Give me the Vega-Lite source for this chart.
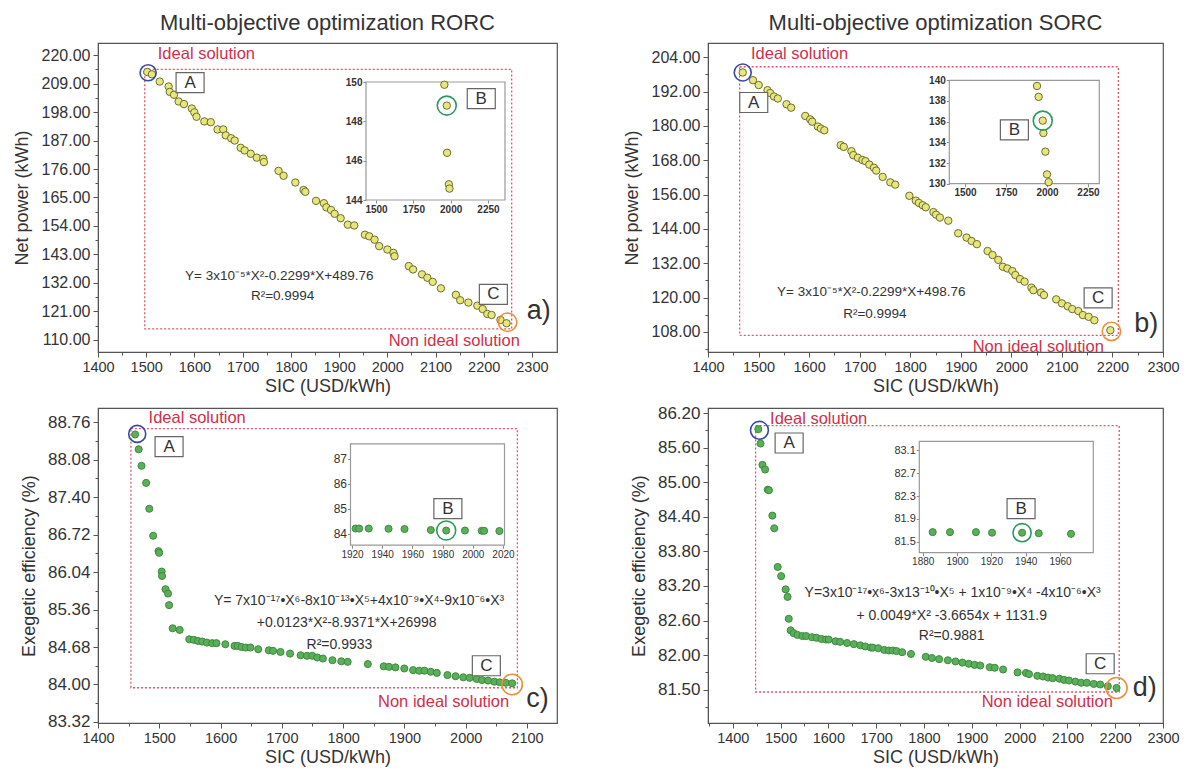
{
"$schema": "https://vega.github.io/schema/vega-lite/v6.json",
"padding": {"left": 12, "top": 11, "right": 5, "bottom": 5},
"background": "white",
"config": {
 "view": {"stroke": "#555", "strokeWidth": 1.2},
 "font": "Liberation Sans",
 "axis": {"labelFont": "Liberation Sans", "titleFont": "Liberation Sans", "labelColor": "#333", "titleColor": "#333", "domainColor": "#555", "tickColor": "#555", "grid": false, "labelFlush": false, "labelOverlap": false, "titleFontWeight": "normal", "tickSize": 5, "labelPadding": 3},
 "title": {"font": "Liberation Sans", "fontWeight": "normal", "fontSize": 22, "color": "#333", "offset": 8},
 "text": {"font": "Liberation Sans"}
},
"columns": 2,
"bounds": "flush",
"spacing": {"row": 56, "column": 151},
"concat": [
{
 "width": 459, "height": 309,
 "title": "Multi-objective optimization RORC",
 "resolve": {"scale": {"x": "independent", "y": "independent"}, "axis": {"x": "independent", "y": "independent"}},
 "layer": [
  {
   "resolve": {"axis": {"x": "independent", "y": "independent"}},
   "layer": [
    {
     "encoding": {
      "x": {"field": "x", "type": "quantitative", "scale": {"domain": [1400, 2352], "nice": false, "zero": false}, "axis": {"orient": "bottom", "values": [1400,1500,1600,1700,1800,1900,2000,2100,2200,2300], "format": "d", "title": "SIC (USD/kWh)", "labelFontSize": 14.5, "titleFontSize": 18, "titlePadding": 4}},
      "y": {"field": "y", "type": "quantitative", "scale": {"domain": [105.3, 224.7], "nice": false, "zero": false}, "axis": {"orient": "left", "values": [110,121,132,143,154,165,176,187,198,209,220], "format": ".2f", "title": "Net power (kWh)", "labelFontSize": 16, "titleFontSize": 18, "titlePadding": 10}}
     },
     "layer": [
      {"data": {"values": [{"x": 1497, "x2": 2258, "y": 114.2, "y2": 214.5}]}, "mark": {"type": "rect", "fill": "transparent", "stroke": "#e0566a", "strokeWidth": 1.3, "strokeDash": [2, 2]}, "encoding": {"x2": {"field": "x2"}, "y2": {"field": "y2"}}},
      {"data": {"values": [{"x":1502.1,"y":213.5},{"x":1511.8,"y":212.6},{"x":1528.0,"y":209.8},{"x":1546.5,"y":207.9},{"x":1548.8,"y":205.8},{"x":1557.6,"y":204.7},{"x":1567.3,"y":202.1},{"x":1578.4,"y":201.1},{"x":1594.6,"y":199.4},{"x":1599.8,"y":197.9},{"x":1604.3,"y":196.2},{"x":1620.5,"y":194.4},{"x":1633.9,"y":194.1},{"x":1647.9,"y":191.3},{"x":1659.8,"y":191.3},{"x":1665.0,"y":189.0},{"x":1676.1,"y":187.9},{"x":1683.5,"y":187.0},{"x":1696.0,"y":184.2},{"x":1704.2,"y":183.2},{"x":1716.8,"y":181.9},{"x":1729.3,"y":180.4},{"x":1742.7,"y":180.0},{"x":1744.1,"y":178.7},{"x":1774.5,"y":175.3},{"x":1784.9,"y":173.4},{"x":1809.3,"y":170.8},{"x":1826.3,"y":167.9},{"x":1830.0,"y":167.2},{"x":1852.2,"y":163.7},{"x":1868.5,"y":162.8},{"x":1873.7,"y":161.2},{"x":1883.3,"y":160.2},{"x":1890.7,"y":158.7},{"x":1903.3,"y":157.0},{"x":1918.1,"y":154.5},{"x":1931.4,"y":154.2},{"x":1953.6,"y":150.6},{"x":1962.5,"y":150.0},{"x":1973.6,"y":148.7},{"x":1983.2,"y":146.2},{"x":2000.2,"y":144.9},{"x":2012.8,"y":143.6},{"x":2015.0,"y":142.3},{"x":2044.6,"y":138.5},{"x":2053.5,"y":137.2},{"x":2072.0,"y":135.3},{"x":2083.1,"y":134.0},{"x":2094.2,"y":132.4},{"x":2111.2,"y":129.9},{"x":2142.3,"y":127.4},{"x":2151.2,"y":125.3},{"x":2168.2,"y":124.4},{"x":2186.7,"y":123.2},{"x":2197.8,"y":121.9},{"x":2207.5,"y":120.0},{"x":2216.3,"y":119.6},{"x":2234.8,"y":117.7},{"x":2247.4,"y":116.4}]}, "mark": {"type": "point", "filled": true, "fill": "#e6e67c", "stroke": "#6e6e2e", "strokeWidth": 1, "opacity": 1, "size": 55}},
      {"data": {"values": [{"x": 1504, "y": 213.2}]}, "mark": {"type": "point", "filled": false, "stroke": "#3a4aa0", "strokeWidth": 1.6, "size": 260, "opacity": 1}},
      {"data": {"values": [{"x": 2249.6, "y": 116.8}]}, "mark": {"type": "point", "filled": false, "stroke": "#e8903a", "strokeWidth": 1.6, "size": 340, "opacity": 1}},
      {"data": {"values": [{"x": 1591, "y": 209.4, "label": "A"}, {"x": 2220, "y": 127.6, "label": "C"}]}, "mark": {"type": "point", "shape": "M-1.4,-1H1.4V1H-1.4Z", "filled": true, "fill": "white", "stroke": "#666", "strokeWidth": 1.2, "size": 400, "opacity": 1}},
      {"data": {"values": [{"x": 1591, "y": 209.4, "label": "A"}, {"x": 2220, "y": 127.6, "label": "C"}]}, "mark": {"type": "text", "fontSize": 17, "color": "#333", "baseline": "middle", "align": "center"}, "encoding": {"text": {"field": "label"}}},
      {"data": {"values": [{"x": 1524, "y": 220.3, "label": "Ideal solution"}]}, "mark": {"type": "text", "fontSize": 16.5, "color": "#d0304a", "align": "left", "baseline": "middle"}, "encoding": {"text": {"field": "label"}}},
      {"data": {"values": [{"x": 2275, "y": 109.7, "label": "Non ideal solution"}]}, "mark": {"type": "text", "fontSize": 16.5, "color": "#d0304a", "align": "right", "baseline": "middle"}, "encoding": {"text": {"field": "label"}}},
      {"data": {"values": [{"x": 1776, "y": 134.7, "label": "Y= 3x10⁻⁵*X²-0.2299*X+489.76"}, {"x": 1783, "y": 127.0, "label": "R²=0.9994"}]}, "mark": {"type": "text", "fontSize": 13.5, "color": "#333", "align": "center", "baseline": "middle"}, "encoding": {"text": {"field": "label"}}},
      {"data": {"values": [{"x": 2314, "y": 121.2, "label": "a)"}]}, "mark": {"type": "text", "fontSize": 27, "color": "#333", "align": "center", "baseline": "middle"}, "encoding": {"text": {"field": "label"}}}
     ]
    },
    {"data": {"values": [{"x": 1400, "y": 110}]}, "mark": {"type": "point", "opacity": 0},
     "encoding": {
      "x": {"field": "x", "type": "quantitative", "axis": {"orient": "bottom", "values": [1450,1550,1650,1750,1850,1950,2050,2150,2250], "labels": false, "domain": false, "tickSize": 3, "title": null}},
      "y": {"field": "y", "type": "quantitative", "axis": {"orient": "left", "values": [115.5,126.5,137.5,148.5,159.5,170.5,181.5,192.5,203.5,214.5], "labels": false, "domain": false, "tickSize": 3, "title": null}}
     }}
   ]
  },
  {
   "encoding": {
    "x": {"field": "x", "type": "quantitative", "scale": {"domain": [1433, 2364], "range": [268, 407], "nice": false, "zero": false}, "axis": {"orient": "bottom", "offset": -152, "values": [1500, 1750, 2000, 2250], "format": "d", "title": null, "domain": false, "tickSize": 3, "labelFontSize": 10, "labelFontWeight": "bold", "labelPadding": 1, "tickColor": "#888"}},
    "y": {"field": "y", "type": "quantitative", "scale": {"domain": [144, 150], "range": [157, 39], "nice": false, "zero": false}, "axis": {"orient": "left", "offset": -268, "values": [144, 146, 148, 150], "format": "d", "title": null, "domain": false, "tickSize": 3, "labelFontSize": 10, "labelFontWeight": "bold", "labelPadding": 1, "tickColor": "#888"}}
   },
   "layer": [
    {"data": {"values": [{"x": 1433, "x2": 2364, "y": 144, "y2": 150}]}, "mark": {"type": "rect", "fill": "white", "stroke": "#999", "strokeWidth": 1.2}, "encoding": {"x2": {"field": "x2"}, "y2": {"field": "y2"}}},
    {"data": {"values": [{"x": 1958, "y": 149.86}, {"x": 1974, "y": 148.8}, {"x": 1976, "y": 146.4}, {"x": 1988, "y": 144.8}, {"x": 1992, "y": 144.58}]}, "mark": {"type": "point", "filled": true, "fill": "#e6e67c", "stroke": "#6e6e2e", "strokeWidth": 1, "opacity": 1, "size": 55}},
    {"data": {"values": [{"x": 1974, "y": 148.8}]}, "mark": {"type": "point", "filled": false, "stroke": "#2a9a60", "strokeWidth": 1.6, "size": 360, "opacity": 1}},
    {"data": {"values": [{"x": 2205, "y": 149.15, "label": "B"}]}, "mark": {"type": "point", "shape": "M-1.4,-1H1.4V1H-1.4Z", "filled": true, "fill": "white", "stroke": "#666", "strokeWidth": 1.2, "size": 400, "opacity": 1}},
    {"data": {"values": [{"x": 2205, "y": 149.15, "label": "B"}]}, "mark": {"type": "text", "fontSize": 17, "color": "#333", "baseline": "middle", "align": "center"}, "encoding": {"text": {"field": "label"}}}
   ]
  }
 ]
},
{
 "width": 455, "height": 309,
 "title": "Multi-objective optimization SORC",
 "resolve": {"scale": {"x": "independent", "y": "independent"}, "axis": {"x": "independent", "y": "independent"}},
 "layer": [
  {
   "resolve": {"axis": {"x": "independent", "y": "independent"}},
   "layer": [
    {
     "encoding": {
      "x": {"field": "x", "type": "quantitative", "scale": {"domain": [1400, 2300], "nice": false, "zero": false}, "axis": {"orient": "bottom", "values": [1400,1500,1600,1700,1800,1900,2000,2100,2200,2300], "format": "d", "title": "SIC (USD/kWh)", "labelFontSize": 14.5, "titleFontSize": 18, "titlePadding": 4}},
      "y": {"field": "y", "type": "quantitative", "scale": {"domain": [101, 209], "nice": false, "zero": false}, "axis": {"orient": "left", "values": [108,120,132,144,156,168,180,192,204], "format": ".2f", "title": "Net power (kWh)", "labelFontSize": 16, "titleFontSize": 18, "titlePadding": 10}}
     },
     "layer": [
      {"data": {"values": [{"x": 1462.6, "x2": 2211.7, "y": 106.8, "y2": 200.7}]}, "mark": {"type": "rect", "fill": "transparent", "stroke": "#e0566a", "strokeWidth": 1.3, "strokeDash": [2, 2]}, "encoding": {"x2": {"field": "x2"}, "y2": {"field": "y2"}}},
      {"data": {"values": [{"x":1468.7,"y":198.7},{"x":1489.0,"y":196.0},{"x":1500.3,"y":194.3},{"x":1517.7,"y":192.5},{"x":1523.0,"y":191.5},{"x":1530.5,"y":190.3},{"x":1538.1,"y":189.6},{"x":1555.4,"y":187.6},{"x":1564.5,"y":186.4},{"x":1592.4,"y":183.5},{"x":1602.2,"y":182.3},{"x":1606.0,"y":181.5},{"x":1617.3,"y":179.8},{"x":1623.3,"y":179.1},{"x":1630.1,"y":178.5},{"x":1662.5,"y":173.3},{"x":1668.6,"y":172.7},{"x":1683.7,"y":171.2},{"x":1687.4,"y":169.8},{"x":1696.5,"y":168.9},{"x":1705.5,"y":168.1},{"x":1711.6,"y":167.7},{"x":1719.1,"y":166.5},{"x":1728.2,"y":165.4},{"x":1732.7,"y":164.4},{"x":1745.5,"y":162.2},{"x":1760.6,"y":160.3},{"x":1770.4,"y":159.5},{"x":1798.3,"y":155.6},{"x":1811.1,"y":153.9},{"x":1817.2,"y":153.1},{"x":1824.7,"y":152.3},{"x":1830.8,"y":151.6},{"x":1845.9,"y":149.9},{"x":1851.1,"y":149.0},{"x":1858.7,"y":148.0},{"x":1875.3,"y":146.9},{"x":1894.9,"y":142.5},{"x":1911.5,"y":141.0},{"x":1921.3,"y":139.8},{"x":1931.9,"y":138.7},{"x":1953.0,"y":136.3},{"x":1962.8,"y":134.9},{"x":1974.1,"y":133.2},{"x":1983.2,"y":130.8},{"x":1992.2,"y":130.2},{"x":2002.0,"y":129.3},{"x":2008.0,"y":127.9},{"x":2017.1,"y":126.5},{"x":2026.2,"y":125.6},{"x":2039.7,"y":123.5},{"x":2043.5,"y":122.6},{"x":2058.6,"y":121.8},{"x":2064.6,"y":120.9},{"x":2088.8,"y":119.4},{"x":2100.1,"y":118.0},{"x":2111.4,"y":117.0},{"x":2120.5,"y":116.0},{"x":2132.5,"y":115.3},{"x":2141.6,"y":113.9},{"x":2152.9,"y":113.3},{"x":2164.2,"y":112.1},{"x":2195.9,"y":108.6}]}, "mark": {"type": "point", "filled": true, "fill": "#e6e67c", "stroke": "#6e6e2e", "strokeWidth": 1, "opacity": 1, "size": 55}},
      {"data": {"values": [{"x": 1468.7, "y": 198.7}]}, "mark": {"type": "point", "filled": false, "stroke": "#3a4aa0", "strokeWidth": 1.6, "size": 290, "opacity": 1}},
      {"data": {"values": [{"x": 2198, "y": 108.2}]}, "mark": {"type": "point", "filled": false, "stroke": "#e8903a", "strokeWidth": 1.6, "size": 340, "opacity": 1}},
      {"data": {"values": [{"x": 1490.5, "y": 188.2, "label": "A"}, {"x": 2171.7, "y": 119.9, "label": "C"}]}, "mark": {"type": "point", "shape": "M-1.4,-1H1.4V1H-1.4Z", "filled": true, "fill": "white", "stroke": "#666", "strokeWidth": 1.2, "size": 400, "opacity": 1}},
      {"data": {"values": [{"x": 1490.5, "y": 188.2, "label": "A"}, {"x": 2171.7, "y": 119.9, "label": "C"}]}, "mark": {"type": "text", "fontSize": 17, "color": "#333", "baseline": "middle", "align": "center"}, "encoding": {"text": {"field": "label"}}},
      {"data": {"values": [{"x": 1485, "y": 205.2, "label": "Ideal solution"}]}, "mark": {"type": "text", "fontSize": 16.5, "color": "#d0304a", "align": "left", "baseline": "middle"}, "encoding": {"text": {"field": "label"}}},
      {"data": {"values": [{"x": 2183, "y": 102.7, "label": "Non ideal solution"}]}, "mark": {"type": "text", "fontSize": 16.5, "color": "#d0304a", "align": "right", "baseline": "middle"}, "encoding": {"text": {"field": "label"}}},
      {"data": {"values": [{"x": 1722.9, "y": 121.8, "label": "Y= 3x10⁻⁵*X²-0.2299*X+498.76"}, {"x": 1730, "y": 114.4, "label": "R²=0.9994"}]}, "mark": {"type": "text", "fontSize": 13.5, "color": "#333", "align": "center", "baseline": "middle"}, "encoding": {"text": {"field": "label"}}},
      {"data": {"values": [{"x": 2267, "y": 110.9, "label": "b)"}]}, "mark": {"type": "text", "fontSize": 27, "color": "#333", "align": "center", "baseline": "middle"}, "encoding": {"text": {"field": "label"}}}
     ]
    },
    {"data": {"values": [{"x": 1400, "y": 108}]}, "mark": {"type": "point", "opacity": 0},
     "encoding": {
      "x": {"field": "x", "type": "quantitative", "axis": {"orient": "bottom", "values": [1450,1550,1650,1750,1850,1950,2050,2150,2250], "labels": false, "domain": false, "tickSize": 3, "title": null}},
      "y": {"field": "y", "type": "quantitative", "axis": {"orient": "left", "values": [102,114,126,138,150,162,174,186,198], "labels": false, "domain": false, "tickSize": 3, "title": null}}
     }}
   ]
  },
  {
   "encoding": {
    "x": {"field": "x", "type": "quantitative", "scale": {"domain": [1404, 2319], "range": [241.3, 391.3], "nice": false, "zero": false}, "axis": {"orient": "bottom", "offset": -168.3, "values": [1500, 1750, 2000, 2250], "format": "d", "title": null, "domain": false, "tickSize": 3, "labelFontSize": 10, "labelFontWeight": "bold", "labelPadding": 1, "tickColor": "#888"}},
    "y": {"field": "y", "type": "quantitative", "scale": {"domain": [130, 140], "range": [140.7, 37.3], "nice": false, "zero": false}, "axis": {"orient": "left", "offset": -241.3, "values": [130, 132, 134, 136, 138, 140], "format": "d", "title": null, "domain": false, "tickSize": 3, "labelFontSize": 10, "labelFontWeight": "bold", "labelPadding": 1, "tickColor": "#888"}}
   },
   "layer": [
    {"data": {"values": [{"x": 1404, "x2": 2319, "y": 130, "y2": 140}]}, "mark": {"type": "rect", "fill": "white", "stroke": "#999", "strokeWidth": 1.2}, "encoding": {"x2": {"field": "x2"}, "y2": {"field": "y2"}}},
    {"data": {"values": [{"x": 1939, "y": 139.45}, {"x": 1949, "y": 138.4}, {"x": 1974, "y": 136.1}, {"x": 1978, "y": 134.9}, {"x": 1990, "y": 133.1}, {"x": 2000, "y": 130.9}, {"x": 2010, "y": 130.15}]}, "mark": {"type": "point", "filled": true, "fill": "#e6e67c", "stroke": "#6e6e2e", "strokeWidth": 1, "opacity": 1, "size": 55}},
    {"data": {"values": [{"x": 1974, "y": 136.1}]}, "mark": {"type": "point", "filled": false, "stroke": "#2a9a60", "strokeWidth": 1.6, "size": 360, "opacity": 1}},
    {"data": {"values": [{"x": 1801, "y": 135.2, "label": "B"}]}, "mark": {"type": "point", "shape": "M-1.4,-1H1.4V1H-1.4Z", "filled": true, "fill": "white", "stroke": "#666", "strokeWidth": 1.2, "size": 400, "opacity": 1}},
    {"data": {"values": [{"x": 1801, "y": 135.2, "label": "B"}]}, "mark": {"type": "text", "fontSize": 17, "color": "#333", "baseline": "middle", "align": "center"}, "encoding": {"text": {"field": "label"}}}
   ]
  }
 ]
},
{
 "width": 459, "height": 315,
 "resolve": {"scale": {"x": "independent", "y": "independent"}, "axis": {"x": "independent", "y": "independent"}},
 "layer": [
  {
   "resolve": {"axis": {"x": "independent", "y": "independent"}},
   "layer": [
    {
     "encoding": {
      "x": {"field": "x", "type": "quantitative", "scale": {"domain": [1400, 2149], "nice": false, "zero": false}, "axis": {"orient": "bottom", "values": [1400,1500,1600,1700,1800,1900,2000,2100], "format": "d", "title": "SIC (USD/kWh)", "labelFontSize": 14.5, "titleFontSize": 18, "titlePadding": 4}},
      "y": {"field": "y", "type": "quantitative", "scale": {"domain": [83.30, 89.02], "nice": false, "zero": false}, "axis": {"orient": "left", "values": [83.32,84.0,84.68,85.36,86.04,86.72,87.4,88.08,88.76], "format": ".2f", "title": "Exegetic efficiency (%)", "labelFontSize": 17, "titleFontSize": 18, "titlePadding": 9}}
     },
     "layer": [
      {"data": {"values": [{"x": 1453.7, "x2": 2084.4, "y": 83.94, "y2": 88.645}]}, "mark": {"type": "rect", "fill": "transparent", "stroke": "#e0566a", "strokeWidth": 1.3, "strokeDash": [2, 2]}, "encoding": {"x2": {"field": "x2"}, "y2": {"field": "y2"}}},
      {"data": {"values": [{"x":1460.6,"y":88.54},{"x":1466.4,"y":88.27},{"x":1471.0,"y":87.97},{"x":1478.5,"y":87.66},{"x":1483.7,"y":87.19},{"x":1490.0,"y":86.70},{"x":1498.7,"y":86.42},{"x":1499.8,"y":86.39},{"x":1503.9,"y":86.05},{"x":1504.5,"y":85.97},{"x":1510.2,"y":85.73},{"x":1514.3,"y":85.65},{"x":1516.0,"y":85.44},{"x":1521.8,"y":85.02},{"x":1533.3,"y":84.99},{"x":1548.9,"y":84.82},{"x":1556.4,"y":84.81},{"x":1563.3,"y":84.79},{"x":1570.2,"y":84.78},{"x":1577.7,"y":84.76},{"x":1586.4,"y":84.75},{"x":1593.3,"y":84.75},{"x":1607.8,"y":84.73},{"x":1622.8,"y":84.70},{"x":1628.0,"y":84.70},{"x":1634.3,"y":84.68},{"x":1641.2,"y":84.67},{"x":1648.7,"y":84.67},{"x":1661.4,"y":84.64},{"x":1678.7,"y":84.62},{"x":1685.7,"y":84.61},{"x":1697.8,"y":84.59},{"x":1713.4,"y":84.56},{"x":1730.7,"y":84.53},{"x":1741.1,"y":84.52},{"x":1749.7,"y":84.52},{"x":1757.8,"y":84.49},{"x":1767.0,"y":84.47},{"x":1782.6,"y":84.44},{"x":1797.0,"y":84.42},{"x":1807.4,"y":84.41},{"x":1840.3,"y":84.37},{"x":1866.3,"y":84.33},{"x":1874.9,"y":84.32},{"x":1885.3,"y":84.31},{"x":1899.8,"y":84.29},{"x":1914.2,"y":84.26},{"x":1924.0,"y":84.25},{"x":1932.7,"y":84.25},{"x":1943.1,"y":84.23},{"x":1952.9,"y":84.21},{"x":1970.2,"y":84.17},{"x":1983.5,"y":84.15},{"x":1996.1,"y":84.13},{"x":2006.5,"y":84.12},{"x":2018.1,"y":84.10},{"x":2026.7,"y":84.08},{"x":2036.5,"y":84.07},{"x":2046.9,"y":84.05},{"x":2055.6,"y":84.04},{"x":2065.4,"y":84.03},{"x":2075.8,"y":84.02}]}, "mark": {"type": "point", "filled": true, "fill": "#5aaf5a", "stroke": "#3d8b3d", "strokeWidth": 1, "opacity": 1, "size": 50}},
      {"data": {"values": [{"x": 1464, "y": 88.55}]}, "mark": {"type": "point", "filled": false, "stroke": "#3a4aa0", "strokeWidth": 1.6, "size": 290, "opacity": 1}},
      {"data": {"values": [{"x": 2075.8, "y": 84.0}]}, "mark": {"type": "point", "filled": false, "stroke": "#e8903a", "strokeWidth": 1.6, "size": 420, "opacity": 1}},
      {"data": {"values": [{"x": 1516, "y": 88.32, "label": "A"}, {"x": 2033.7, "y": 84.34, "label": "C"}]}, "mark": {"type": "point", "shape": "M-1.4,-1H1.4V1H-1.4Z", "filled": true, "fill": "white", "stroke": "#666", "strokeWidth": 1.2, "size": 400, "opacity": 1}},
      {"data": {"values": [{"x": 1516, "y": 88.32, "label": "A"}, {"x": 2033.7, "y": 84.34, "label": "C"}]}, "mark": {"type": "text", "fontSize": 17, "color": "#333", "baseline": "middle", "align": "center"}, "encoding": {"text": {"field": "label"}}},
      {"data": {"values": [{"x": 1482.5, "y": 88.84, "label": "Ideal solution"}]}, "mark": {"type": "text", "fontSize": 16.5, "color": "#d0304a", "align": "left", "baseline": "middle"}, "encoding": {"text": {"field": "label"}}},
      {"data": {"values": [{"x": 2071, "y": 83.68, "label": "Non ideal solution"}]}, "mark": {"type": "text", "fontSize": 16.5, "color": "#d0304a", "align": "right", "baseline": "middle"}, "encoding": {"text": {"field": "label"}}},
      {"data": {"values": [{"x": 1826, "y": 85.52, "label": "Y= 7x10⁻¹⁷•X⁶-8x10⁻¹³•X⁵+4x10⁻⁹•X⁴-9x10⁻⁶•X³"}, {"x": 1805.7, "y": 85.11, "label": "+0.0123*X²-8.9371*X+26998"}, {"x": 1794, "y": 84.71, "label": "R²=0.9933"}]}, "mark": {"type": "text", "fontSize": 14, "color": "#333", "align": "center", "baseline": "middle"}, "encoding": {"text": {"field": "label"}}},
      {"data": {"values": [{"x": 2117, "y": 83.74, "label": "c)"}]}, "mark": {"type": "text", "fontSize": 27, "color": "#333", "align": "center", "baseline": "middle"}, "encoding": {"text": {"field": "label"}}}
     ]
    },
    {"data": {"values": [{"x": 1400, "y": 84}]}, "mark": {"type": "point", "opacity": 0},
     "encoding": {
      "x": {"field": "x", "type": "quantitative", "axis": {"orient": "bottom", "values": [1450,1550,1650,1750,1850,1950,2050], "labels": false, "domain": false, "tickSize": 3, "title": null}},
      "y": {"field": "y", "type": "quantitative", "axis": {"orient": "left", "values": [83.66,84.34,85.02,85.7,86.38,87.06,87.74,88.42], "labels": false, "domain": false, "tickSize": 3, "title": null}}
     }}
   ]
  },
  {
   "encoding": {
    "x": {"field": "x", "type": "quantitative", "scale": {"domain": [1919, 2021], "range": [252.5, 406.5], "nice": false, "zero": false}, "axis": {"orient": "bottom", "offset": -177.8, "values": [1920, 1940, 1960, 1980, 2000, 2020], "format": "d", "title": null, "domain": false, "tickSize": 3, "labelFontSize": 10, "labelPadding": 1, "tickColor": "#888"}},
    "y": {"field": "y", "type": "quantitative", "scale": {"domain": [83.53, 87.6], "range": [137.2, 35.9], "nice": false, "zero": false}, "axis": {"orient": "left", "offset": -252.5, "values": [84, 85, 86, 87], "format": "d", "title": null, "domain": false, "tickSize": 3, "labelFontSize": 12, "labelPadding": 1, "tickColor": "#888"}}
   },
   "layer": [
    {"data": {"values": [{"x": 1919, "x2": 2021, "y": 83.53, "y2": 87.6}]}, "mark": {"type": "rect", "fill": "white", "stroke": "#999", "strokeWidth": 1.2}, "encoding": {"x2": {"field": "x2"}, "y2": {"field": "y2"}}},
    {"data": {"values": [{"x": 1922.4, "y": 84.2}, {"x": 1924.7, "y": 84.2}, {"x": 1931.1, "y": 84.2}, {"x": 1944.2, "y": 84.19}, {"x": 1954.8, "y": 84.18}, {"x": 1972.2, "y": 84.14}, {"x": 1982.4, "y": 84.12}, {"x": 1994.8, "y": 84.12}, {"x": 2005.9, "y": 84.11}, {"x": 2007.5, "y": 84.11}, {"x": 2017.6, "y": 84.1}]}, "mark": {"type": "point", "filled": true, "fill": "#5aaf5a", "stroke": "#3d8b3d", "strokeWidth": 1, "opacity": 1, "size": 50}},
    {"data": {"values": [{"x": 1982.4, "y": 84.12}]}, "mark": {"type": "point", "filled": false, "stroke": "#2a9a60", "strokeWidth": 1.6, "size": 360, "opacity": 1}},
    {"data": {"values": [{"x": 1983.5, "y": 85.0, "label": "B"}]}, "mark": {"type": "point", "shape": "M-1.4,-1H1.4V1H-1.4Z", "filled": true, "fill": "white", "stroke": "#666", "strokeWidth": 1.2, "size": 400, "opacity": 1}},
    {"data": {"values": [{"x": 1983.5, "y": 85.0, "label": "B"}]}, "mark": {"type": "text", "fontSize": 17, "color": "#333", "baseline": "middle", "align": "center"}, "encoding": {"text": {"field": "label"}}}
   ]
  }
 ]
},
{
 "width": 455, "height": 315,
 "resolve": {"scale": {"x": "independent", "y": "independent"}, "axis": {"x": "independent", "y": "independent"}},
 "layer": [
  {
   "resolve": {"axis": {"x": "independent", "y": "independent"}},
   "layer": [
    {
     "encoding": {
      "x": {"field": "x", "type": "quantitative", "scale": {"domain": [1348.2, 2300], "nice": false, "zero": false}, "axis": {"orient": "bottom", "values": [1400,1500,1600,1700,1800,1900,2000,2100,2200,2300], "format": "d", "title": "SIC (USD/kWh)", "labelFontSize": 14.5, "titleFontSize": 18, "titlePadding": 4}},
      "y": {"field": "y", "type": "quantitative", "scale": {"domain": [80.822, 86.287], "nice": false, "zero": false}, "axis": {"orient": "left", "values": [81.4,82.0,82.6,83.2,83.8,84.4,85.0,85.6,86.2], "labelExpr": "datum.value < 81.45 ? '81.50' : format(datum.value, '.2f')", "title": "Exegetic efficiency (%)", "labelFontSize": 17, "titleFontSize": 18, "titlePadding": 9}}
     },
     "layer": [
      {"data": {"values": [{"x": 1447.8, "x2": 2208.4, "y": 81.36, "y2": 85.98}]}, "mark": {"type": "rect", "fill": "transparent", "stroke": "#e0566a", "strokeWidth": 1.3, "strokeDash": [2, 2]}, "encoding": {"x2": {"field": "x2"}, "y2": {"field": "y2"}}},
      {"data": {"values": [{"x":1453.4,"y":85.92},{"x":1458.1,"y":85.67},{"x":1462.1,"y":85.30},{"x":1467.7,"y":85.22},{"x":1473.3,"y":84.87},{"x":1475.7,"y":84.86},{"x":1482.8,"y":84.42},{"x":1486.8,"y":84.20},{"x":1494.0,"y":83.53},{"x":1501.2,"y":83.37},{"x":1510.7,"y":83.14},{"x":1514.7,"y":83.01},{"x":1517.1,"y":82.63},{"x":1521.1,"y":82.43},{"x":1527.4,"y":82.38},{"x":1535.4,"y":82.35},{"x":1545.8,"y":82.33},{"x":1553.7,"y":82.33},{"x":1565.7,"y":82.31},{"x":1575.2,"y":82.30},{"x":1585.6,"y":82.28},{"x":1595.1,"y":82.27},{"x":1600.7,"y":82.27},{"x":1615.1,"y":82.24},{"x":1624.6,"y":82.23},{"x":1639.0,"y":82.21},{"x":1653.3,"y":82.19},{"x":1666.8,"y":82.17},{"x":1677.2,"y":82.15},{"x":1689.1,"y":82.13},{"x":1693.1,"y":82.13},{"x":1704.3,"y":82.12},{"x":1717.0,"y":82.09},{"x":1726.6,"y":82.08},{"x":1734.5,"y":82.08},{"x":1742.5,"y":82.07},{"x":1754.4,"y":82.05},{"x":1772.8,"y":82.02},{"x":1803.8,"y":81.97},{"x":1816.6,"y":81.95},{"x":1831.7,"y":81.93},{"x":1850.0,"y":81.91},{"x":1866.0,"y":81.89},{"x":1880.3,"y":81.87},{"x":1893.8,"y":81.85},{"x":1905.8,"y":81.83},{"x":1917.7,"y":81.82},{"x":1937.6,"y":81.79},{"x":1948.0,"y":81.78},{"x":1965.5,"y":81.75},{"x":1995.8,"y":81.70},{"x":2013.3,"y":81.69},{"x":2019.7,"y":81.67},{"x":2037.2,"y":81.64},{"x":2049.1,"y":81.63},{"x":2059.5,"y":81.61},{"x":2069.1,"y":81.60},{"x":2083.4,"y":81.59},{"x":2093.0,"y":81.57},{"x":2103.3,"y":81.56},{"x":2116.9,"y":81.54},{"x":2128.8,"y":81.52},{"x":2140.7,"y":81.52},{"x":2155.1,"y":81.50},{"x":2168.6,"y":81.49},{"x":2184.6,"y":81.46},{"x":2202.9,"y":81.43}]}, "mark": {"type": "point", "filled": true, "fill": "#5aaf5a", "stroke": "#3d8b3d", "strokeWidth": 1, "opacity": 1, "size": 50}},
      {"data": {"values": [{"x": 1455.8, "y": 85.9}]}, "mark": {"type": "point", "filled": false, "stroke": "#3a4aa0", "strokeWidth": 1.6, "size": 320, "opacity": 1}},
      {"data": {"values": [{"x": 2203, "y": 81.43}]}, "mark": {"type": "point", "filled": false, "stroke": "#e8903a", "strokeWidth": 1.6, "size": 440, "opacity": 1}},
      {"data": {"values": [{"x": 1517.9, "y": 85.68, "label": "A"}, {"x": 2168.6, "y": 81.85, "label": "C"}]}, "mark": {"type": "point", "shape": "M-1.4,-1H1.4V1H-1.4Z", "filled": true, "fill": "white", "stroke": "#666", "strokeWidth": 1.2, "size": 400, "opacity": 1}},
      {"data": {"values": [{"x": 1517.9, "y": 85.68, "label": "A"}, {"x": 2168.6, "y": 81.85, "label": "C"}]}, "mark": {"type": "text", "fontSize": 17, "color": "#333", "baseline": "middle", "align": "center"}, "encoding": {"text": {"field": "label"}}},
      {"data": {"values": [{"x": 1478, "y": 86.1, "label": "Ideal solution"}]}, "mark": {"type": "text", "fontSize": 16.5, "color": "#d0304a", "align": "left", "baseline": "middle"}, "encoding": {"text": {"field": "label"}}},
      {"data": {"values": [{"x": 2195, "y": 81.18, "label": "Non ideal solution"}]}, "mark": {"type": "text", "fontSize": 16.5, "color": "#d0304a", "align": "right", "baseline": "middle"}, "encoding": {"text": {"field": "label"}}},
      {"data": {"values": [{"x": 1860, "y": 83.08, "label": "Y=3x10⁻¹⁷•x⁶-3x13⁻¹⁰•X⁵ + 1x10⁻⁹•X⁴ -4x10⁻⁶•X³"}, {"x": 1858, "y": 82.68, "label": "+ 0.0049*X² -3.6654x + 1131.9"}, {"x": 1858, "y": 82.33, "label": "R²=0.9881"}]}, "mark": {"type": "text", "fontSize": 14, "color": "#333", "align": "center", "baseline": "middle"}, "encoding": {"text": {"field": "label"}}},
      {"data": {"values": [{"x": 2262, "y": 81.43, "label": "d)"}]}, "mark": {"type": "text", "fontSize": 27, "color": "#333", "align": "center", "baseline": "middle"}, "encoding": {"text": {"field": "label"}}}
     ]
    },
    {"data": {"values": [{"x": 1400, "y": 82}]}, "mark": {"type": "point", "opacity": 0},
     "encoding": {
      "x": {"field": "x", "type": "quantitative", "axis": {"orient": "bottom", "values": [1350,1450,1550,1650,1750,1850,1950,2050,2150,2250], "labels": false, "domain": false, "tickSize": 3, "title": null}},
      "y": {"field": "y", "type": "quantitative", "axis": {"orient": "left", "values": [81.1,81.7,82.3,82.9,83.5,84.1,84.7,85.3,85.9], "labels": false, "domain": false, "tickSize": 3, "title": null}}
     }}
   ]
  },
  {
   "encoding": {
    "x": {"field": "x", "type": "quantitative", "scale": {"domain": [1878, 1979.4], "range": [211.3, 385.3], "nice": false, "zero": false}, "axis": {"orient": "bottom", "offset": -170.3, "values": [1880, 1900, 1920, 1940, 1960, 1980], "format": "d", "title": null, "domain": false, "tickSize": 3, "labelFontSize": 10, "labelPadding": 1, "tickColor": "#888"}},
    "y": {"field": "y", "type": "quantitative", "scale": {"domain": [81.31, 83.26], "range": [144.7, 33.3], "nice": false, "zero": false}, "axis": {"orient": "left", "offset": -211.3, "values": [81.5, 81.9, 82.3, 82.7, 83.1], "format": ".1f", "title": null, "domain": false, "tickSize": 3, "labelFontSize": 11, "labelPadding": 1, "tickColor": "#888"}}
   },
   "layer": [
    {"data": {"values": [{"x": 1878, "x2": 1979.4, "y": 81.31, "y2": 83.26}]}, "mark": {"type": "rect", "fill": "white", "stroke": "#999", "strokeWidth": 1.2}, "encoding": {"x2": {"field": "x2"}, "y2": {"field": "y2"}}},
    {"data": {"values": [{"x": 1885.8, "y": 81.67}, {"x": 1895.9, "y": 81.67}, {"x": 1911, "y": 81.67}, {"x": 1920.4, "y": 81.66}, {"x": 1937.9, "y": 81.66}, {"x": 1947.6, "y": 81.65}, {"x": 1966.4, "y": 81.64}]}, "mark": {"type": "point", "filled": true, "fill": "#5aaf5a", "stroke": "#3d8b3d", "strokeWidth": 1, "opacity": 1, "size": 50}},
    {"data": {"values": [{"x": 1937.9, "y": 81.66}]}, "mark": {"type": "point", "filled": false, "stroke": "#2a9a60", "strokeWidth": 1.6, "size": 330, "opacity": 1}},
    {"data": {"values": [{"x": 1937.3, "y": 82.08, "label": "B"}]}, "mark": {"type": "point", "shape": "M-1.4,-1H1.4V1H-1.4Z", "filled": true, "fill": "white", "stroke": "#666", "strokeWidth": 1.2, "size": 400, "opacity": 1}},
    {"data": {"values": [{"x": 1937.3, "y": 82.08, "label": "B"}]}, "mark": {"type": "text", "fontSize": 17, "color": "#333", "baseline": "middle", "align": "center"}, "encoding": {"text": {"field": "label"}}}
   ]
  }
 ]
}
]
}
